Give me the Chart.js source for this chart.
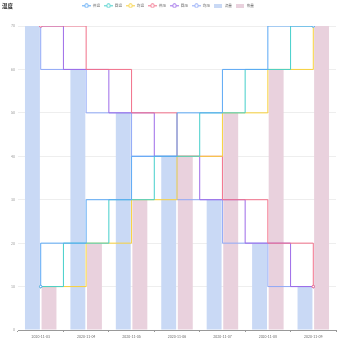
<!DOCTYPE html>
<html>
<head>
<meta charset="utf-8">
<script src="https://cdn.jsdelivr.net/npm/chart.js@4.4.1/dist/chart.umd.min.js"></script>
<style>
  html, body { margin: 0; padding: 0; background: #fff; }
  #wrap { width: 350px; height: 350px; }
</style>
</head>
<body>
<div id="wrap"><canvas id="chart-1"></canvas></div>
<script>
const days = ["2020-11-03", "2020-11-04", "2020-11-05", "2020-11-06", "2020-11-07", "2020-11-08", "2020-11-09"];
const riseValues = [10, 20, 30, 40, 50, 60, 70];
const fallValues = [70, 60, 50, 40, 30, 20, 10];
const flowValues = [70, 60, 50, 40, 30, 20, 10];
const heatValues = [10, 20, 30, 40, 50, 60, 70];
const lineNames = ["供温", "回温", "均温", "供压", "回压", "均压"];
const barNames = ["流量", "热量"];
const yTicks = [0, 10, 20, 30, 40, 50, 60, 70];

const lineColors = ["#5ba8f5", "#45cfcb", "#f8d13a", "#f2708a", "#9d6be8", "#8fa8f7"];
// chart.js "after" turns at the first point, "before" at the second one
const stepModes = ["after", "middle", "before", "before", "middle", "after"];
const barColors = ["#c9d9f5", "#e9d1dd"];

Chart.defaults.font.family = "'Noto Sans CJK SC', 'Noto Sans', sans-serif";

// little icons for the legend
function lineIcon(color) {
  const c = document.createElement("canvas");
  c.width = 9; c.height = 5;
  const g = c.getContext("2d");
  g.strokeStyle = color; g.lineWidth = 1;
  g.beginPath(); g.moveTo(0, 2.5); g.lineTo(9, 2.5); g.stroke();
  g.beginPath(); g.arc(4.5, 2.5, 1.8, 0, Math.PI * 2);
  g.fillStyle = "#fff"; g.fill(); g.stroke();
  return c;
}
function barIcon(color) {
  const c = document.createElement("canvas");
  c.width = 8; c.height = 4;
  const g = c.getContext("2d");
  g.fillStyle = color; g.fillRect(0, 0, 8, 4);
  return c;
}
const icons = lineColors.map(lineIcon).concat(barColors.map(barIcon));

const datasets = lineNames.map(function (name, i) {
  return {
    type: "line",
    label: name,
    data: i < 3 ? riseValues : fallValues,
    borderColor: lineColors[i],
    backgroundColor: "#fff",
    borderWidth: 1,
    stepped: stepModes[i],
    pointRadius: function (ctx) { return ctx.dataIndex === 0 || ctx.dataIndex === 6 ? 1.2 : 0; },
    pointBorderWidth: 1,
    fill: false,
    order: 1,
  };
});
datasets.push({ type: "bar", label: barNames[0], data: flowValues, backgroundColor: barColors[0], order: 2 });
datasets.push({ type: "bar", label: barNames[1], data: heatValues, backgroundColor: barColors[1], order: 2 });

const legendSpace = {
  id: "legendSpace",
  beforeUpdate(chart) {
    const lg = chart.legend;
    if (lg && !lg._patched) {
      const fit = lg.fit;
      lg.fit = function () { fit.call(this); this.height = 26; };
      lg._patched = true;
    }
  },
};

const titleText = {
  id: "titleText",
  afterDraw(chart) {
    const g = chart.ctx;
    g.save();
    g.font = "bold 5.5px 'Noto Sans CJK SC'";
    g.fillStyle = "#333";
    g.textBaseline = "middle";
    g.fillText("温度", 2, 6);
    g.restore();
  },
};

new Chart(document.getElementById("chart-1"), {
  type: "bar",
  data: { labels: days, datasets: datasets },
  options: {
    responsive: true,
    maintainAspectRatio: false,
    animation: false,
    layout: { padding: { left: 0, right: 14, top: 0, bottom: 0 } },
    datasets: {
      bar: { barPercentage: 0.9, categoryPercentage: 0.73 },
    },
    plugins: {
      tooltip: { enabled: false },
      legend: {
        display: true,
        position: "top",
        labels: {
          usePointStyle: true,
          pointStyleWidth: 9,
          padding: 4,
          color: "#666",
          font: { size: 3.6 },
          generateLabels: function (chart) {
            const items = Chart.defaults.plugins.legend.labels.generateLabels(chart);
            items.forEach(function (it) { it.pointStyle = icons[it.datasetIndex]; });
            return items;
          },
        },
      },
    },
    scales: {
      x: {
        offset: true,
        grid: { offset: true, drawOnChartArea: false, drawTicks: true, tickLength: 2, color: "#999" },
        border: { color: "#999" },
        ticks: { color: "#666", font: { size: 3.6 }, padding: 2, maxRotation: 0, autoSkip: false },
        afterFit: function (s) { s.height = 20; },
      },
      y: {
        min: 0,
        max: 70,
        afterBuildTicks: function (s) { s.ticks = yTicks.map(function (v) { return { value: v }; }); },
        grid: { color: "#eeeeee", drawTicks: false },
        border: { display: false },
        ticks: { color: "#999", font: { size: 3.6 }, padding: 3 },
        afterFit: function (s) { s.width = 18; },
      },
    },
  },
  plugins: [legendSpace, titleText],
});
</script>
</body>
</html>
